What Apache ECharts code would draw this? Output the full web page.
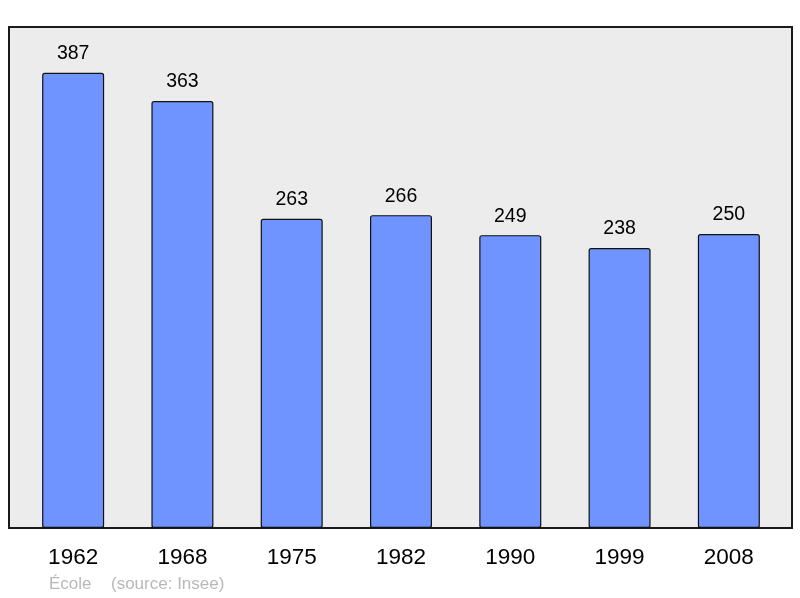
<!DOCTYPE html>
<html>
<head>
<meta charset="utf-8">
<script src="https://cdn.jsdelivr.net/npm/echarts@6/dist/echarts.min.js"></script>
<style>
  html, body { margin: 0; padding: 0; background: #fff; }
  #chart { width: 800px; height: 598px; }
</style>
</head>
<body>
<div id="chart"></div>
<script>
  // population par recensement
  const years = ['1962', '1968', '1975', '1982', '1990', '1999', '2008']
  const population = [387, 363, 263, 266, 249, 238, 250]
  const yMax = 426

  const chart = echarts.init(document.getElementById('chart'), null, { renderer: 'canvas' })

  chart.setOption({
    animation: false,
    backgroundColor: '#ffffff',
    textStyle: { fontFamily: 'Liberation Sans, Arial, sans-serif' },
    title: [{
      text: 'École',
      left: 49,
      top: 576,
      padding: 0,
      textStyle: { fontSize: 17, fontWeight: 'normal', color: '#b8b8b8' }
    }, {
      text: '(source: Insee)',
      left: 111,
      top: 576,
      padding: 0,
      textStyle: { fontSize: 17, fontWeight: 'normal', color: '#b8b8b8' }
    }],
    grid: [{
      // cadre
      left: 9, top: 27, width: 783, height: 501,
      show: true,
      backgroundColor: '#ececec',
      borderColor: '#1a1a1a',
      borderWidth: 2
    }, {
      left: 18.5, top: 27, width: 765, height: 501
    }],
    xAxis: [{
      gridIndex: 0, type: 'value', show: false
    }, {
      gridIndex: 1,
      type: 'category',
      data: years,
      axisLine: { show: false },
      axisTick: { show: false },
      axisLabel: { fontSize: 22.5, color: '#000', margin: 18 }
    }],
    yAxis: [{
      gridIndex: 0, type: 'value', show: false
    }, {
      gridIndex: 1,
      type: 'value',
      min: 0,
      max: yMax,
      show: false
    }],
    series: [{
      type: 'bar',
      xAxisIndex: 1,
      yAxisIndex: 1,
      data: population,
      barWidth: 62,
      itemStyle: {
        color: '#7094ff',
        borderColor: '#111',
        borderWidth: 1.2,
        borderRadius: 2
      },
      label: {
        show: true,
        position: 'top',
        distance: 9,
        fontSize: 19.5,
        color: '#000'
      }
    }]
  })
</script>
</body>
</html>
